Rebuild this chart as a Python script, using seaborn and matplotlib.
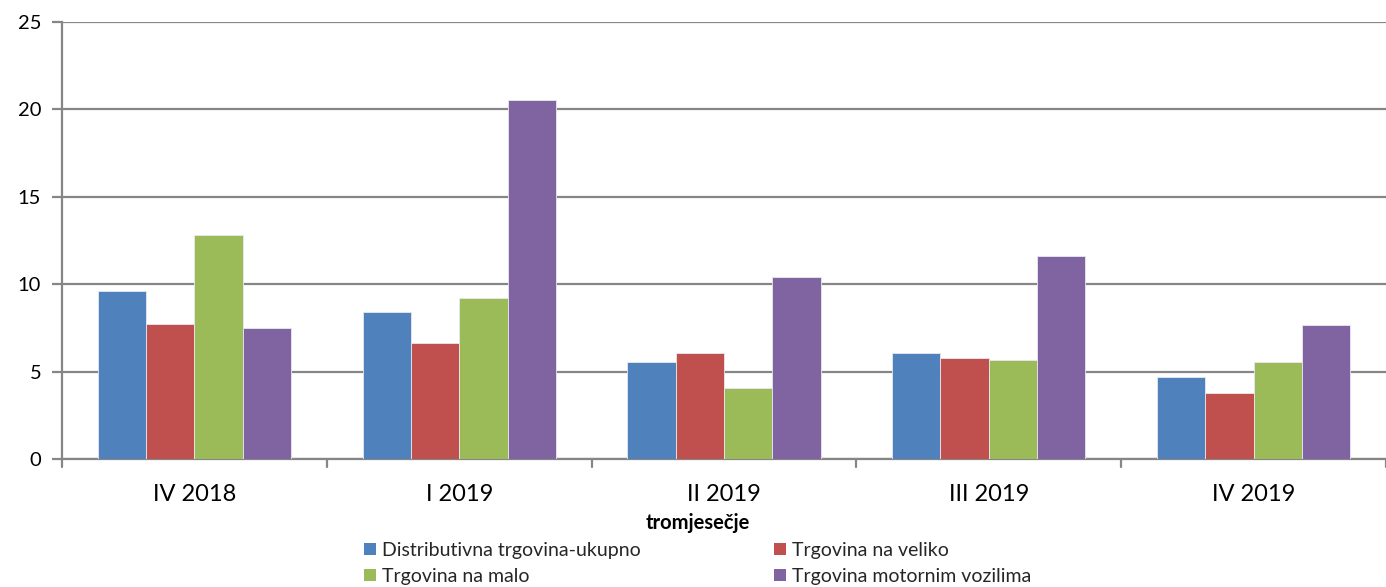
import matplotlib
matplotlib.use("Agg")
import matplotlib.pyplot as plt
import seaborn as sns
import pandas as pd
from matplotlib.patches import Patch

categories = ["IV 2018", "I 2019", "II 2019", "III 2019", "IV 2019"]
series_names = ["Distributivna trgovina-ukupno", "Trgovina na veliko",
                "Trgovina na malo", "Trgovina motornim vozilima"]
ukupno = [9.6, 8.4, 5.55, 6.05, 4.68]
veliko = [7.72, 6.63, 6.05, 5.77, 3.78]
malo = [12.81, 9.2, 4.06, 5.66, 5.56]
motorna = [7.48, 20.54, 10.4, 11.6, 7.66]
colors = ["#4F81BD", "#C0504D", "#9BBB59", "#8064A2"]
yticks = [0, 5, 10, 15, 20, 25]
xlabel = "tromjesečje"

rows = []
for name, vals in zip(series_names, [ukupno, veliko, malo, motorna]):
    for c, v in zip(categories, vals):
        rows.append({"kvartal": c, "serija": name, "vrijednost": v})
df = pd.DataFrame(rows)

sns.set_theme(style="white")
plt.rcParams["font.family"] = ["Lato", "DejaVu Sans"]

fig = plt.figure(figsize=(13.86, 5.87), dpi=100)
ax = fig.add_axes([62 / 1386, (587 - 459) / 587, 1 - 62 / 1386, (459 - 22) / 587])

sns.barplot(data=df, x="kvartal", y="vrijednost", hue="serija", order=categories,
            hue_order=series_names, palette=colors, width=0.73, dodge=True,
            saturation=1, edgecolor="#e8e8f0", linewidth=0.6, legend=False, ax=ax, zorder=3)

ax.set_ylim(0, 25)
ax.set_xlim(-0.5, len(categories) - 0.5)
ax.set_yticks(yticks)
ax.set_yticklabels([str(t) for t in yticks], fontsize=14.5, color="black")
ax.yaxis.grid(True, color="#868686", linewidth=1.6, zorder=0)
ax.set_axisbelow(True)
ax.set_ylabel("")
ax.set_xlabel(xlabel, fontsize=14.5, fontweight="bold", color="black", va="center")
ax.xaxis.set_label_coords((698 - 62) / 1324, (459 - 523) / 437)
ax.tick_params(axis="x", labelsize=17, length=0, pad=18, labelcolor="black")
ax.tick_params(axis="y", length=7, width=1.6, color="#868686", left=True, pad=8)

ax.set_xticks(range(len(categories)))
ax.set_xticklabels(categories)
for b in [i - 0.5 for i in range(len(categories) + 1)]:
    ax.plot([b, b], [0, -0.45], color="#868686", lw=1.6, clip_on=False, zorder=4)

for s in ["top", "right"]:
    ax.spines[s].set_visible(False)
for s in ["left", "bottom"]:
    ax.spines[s].set_color("#868686")
    ax.spines[s].set_linewidth(1.6)

handles = [Patch(facecolor=c, edgecolor="none") for c in colors]
order = [0, 2, 1, 3]
fig.legend([handles[i] for i in order], [series_names[i] for i in order],
           ncol=2, loc="upper left", bbox_to_anchor=(364 / 1386, (587 - 542) / 587),
           frameon=False, fontsize=14, handlelength=0.62, handleheight=0.62,
           handletextpad=0.3, columnspacing=6.85, labelspacing=0.45,
           borderaxespad=0, borderpad=0)

fig.savefig("out.png", dpi=100)
